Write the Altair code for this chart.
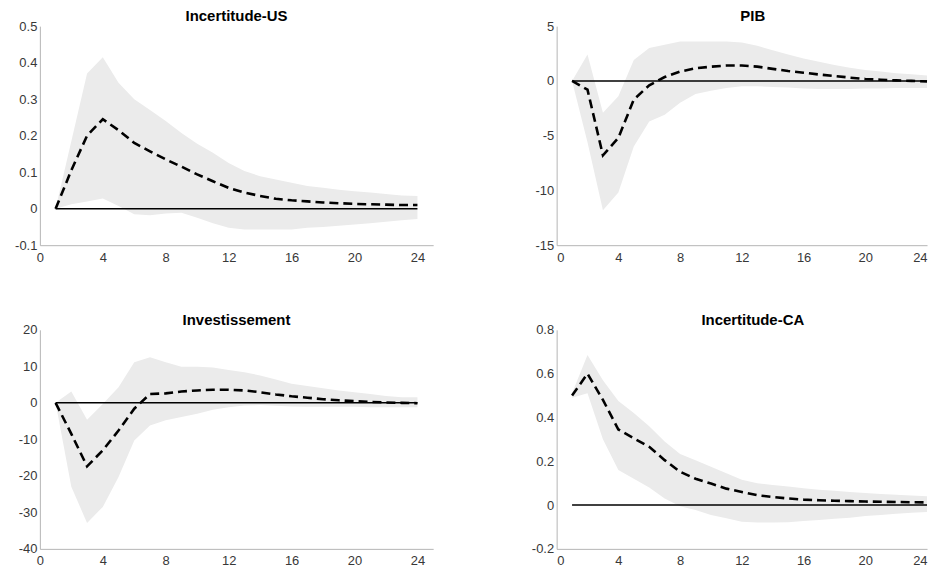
import altair as alt
import pandas as pd

horizons = [1, 2, 3, 4, 5, 6, 7, 8, 9, 10, 11, 12, 13, 14, 15, 16, 17, 18, 19, 20, 21, 22, 23, 24]
x_ticks = [0, 4, 8, 12, 16, 20, 24]

us_med = [0, 0.105, 0.2, 0.245, 0.215, 0.18, 0.157, 0.135, 0.115, 0.094, 0.075, 0.057,
          0.044, 0.035, 0.027, 0.023, 0.02, 0.017, 0.015, 0.013, 0.012, 0.011, 0.01, 0.01]
us_hi = [0, 0.185, 0.37, 0.415, 0.345, 0.30, 0.27, 0.24, 0.207, 0.178, 0.153, 0.125,
         0.103, 0.089, 0.08, 0.071, 0.062, 0.057, 0.052, 0.048, 0.044, 0.04, 0.036, 0.035]
us_lo = [0, 0.012, 0.02, 0.028, 0.007, -0.015, -0.018, -0.013, -0.011, -0.025, -0.04, -0.052,
         -0.057, -0.057, -0.057, -0.057, -0.052, -0.05, -0.047, -0.043, -0.04, -0.036, -0.032, -0.028]
us_yticks = [-0.1, 0, 0.1, 0.2, 0.3, 0.4, 0.5]

pib_med = [0, -0.8, -6.8, -5.2, -1.7, -0.4, 0.35, 0.85, 1.15, 1.3, 1.4, 1.4,
           1.3, 1.1, 0.9, 0.75, 0.58, 0.45, 0.3, 0.18, 0.1, 0.05, 0.0, -0.05]
pib_hi = [0, 2.4, -2.9, -1.4, 1.9, 3.0, 3.3, 3.6, 3.6, 3.6, 3.6, 3.5,
          3.2, 2.8, 2.4, 2.05, 1.75, 1.45, 1.2, 1.0, 0.85, 0.7, 0.6, 0.5]
pib_lo = [0, -5.6, -11.8, -10.2, -6.0, -3.7, -3.1, -2.0, -1.2, -0.9, -0.65, -0.5,
          -0.5, -0.55, -0.6, -0.7, -0.75, -0.75, -0.75, -0.7, -0.7, -0.65, -0.65, -0.65]
pib_yticks = [-15, -10, -5, 0, 5]

inv_med = [0, -8.5, -17.4, -13.0, -7.6, -1.6, 2.4, 2.6, 3.1, 3.4, 3.6, 3.6,
           3.4, 2.9, 2.3, 1.8, 1.4, 1.0, 0.7, 0.45, 0.25, 0.1, 0.0, -0.1]
inv_hi = [0, 3.1, -4.6, -0.3, 4.3, 11.1, 12.5, 11.1, 9.9, 9.9, 9.7, 9.0,
          8.4, 7.5, 6.4, 5.2, 4.6, 4.0, 3.4, 2.9, 2.4, 1.9, 1.5, 1.5]
inv_lo = [0, -23.0, -32.9, -28.5, -20.3, -10.3, -6.2, -4.8, -3.9, -3.0, -1.9, -1.2,
          -0.7, -0.6, -0.8, -1.0, -1.1, -1.1, -1.1, -1.1, -1.2, -1.2, -1.2, -1.2]
inv_yticks = [-40, -30, -20, -10, 0, 10, 20]

ca_med = [0.50, 0.60, 0.48, 0.345, 0.305, 0.266, 0.205, 0.152, 0.12, 0.098, 0.075, 0.06,
          0.045, 0.037, 0.03, 0.025, 0.022, 0.02, 0.018, 0.016, 0.015, 0.014, 0.013, 0.012]
ca_hi = [0.51, 0.685, 0.57, 0.475, 0.42, 0.36, 0.29, 0.233, 0.205, 0.175, 0.145, 0.115,
         0.10, 0.092, 0.085, 0.077, 0.07, 0.065, 0.06, 0.055, 0.05, 0.047, 0.044, 0.04]
ca_lo = [0.49, 0.51, 0.30, 0.16, 0.12, 0.08, 0.03, -0.005, -0.023, -0.045, -0.06, -0.076,
         -0.08, -0.08, -0.078, -0.073, -0.068, -0.063, -0.058, -0.05, -0.045, -0.04, -0.035, -0.032]
ca_yticks = [-0.2, 0, 0.2, 0.4, 0.6, 0.8]

LABEL_EXPR = "(datum.value < 0 ? '-' : '') + format(abs(datum.value), '~g')"


def panel(title, med, lo, hi, yticks, xmax, width, height, right):
    df = pd.DataFrame({"h": horizons, "med": med, "lo": lo, "hi": hi})
    xscale = alt.Scale(domain=[0, xmax], nice=False)
    yscale = alt.Scale(domain=[yticks[0], yticks[-1]], nice=False, zero=False)
    xaxis = alt.Axis(values=x_ticks, tickCount=20, title=None, labelExpr=LABEL_EXPR,
                     labelFlush=right, labelOverlap=False)
    yaxis = alt.Axis(values=yticks, tickCount=20, title=None, labelExpr=LABEL_EXPR,
                     labelOverlap=False)
    base = alt.Chart(df)
    band = base.mark_area(color="#ebebeb", opacity=1).encode(
        x=alt.X("h:Q", scale=xscale, axis=xaxis),
        y=alt.Y("lo:Q", scale=yscale, axis=yaxis),
        y2="hi:Q",
    )
    zero = base.mark_line(color="black", strokeWidth=1.5).encode(
        x="h:Q", y=alt.datum(0)
    )
    line = base.mark_line(color="black", strokeWidth=2.6, strokeDash=[9, 5]).encode(
        x="h:Q", y="med:Q"
    )
    return alt.layer(band, zero, line).properties(
        width=width,
        height=height,
        title=alt.TitleParams(
            title, fontSize=15, fontWeight="bold", font="Liberation Sans",
            color="black", offset=-4, dx=11 if right else 0,
        ),
    )


H = 220
p1 = panel("Incertitude-US", us_med, us_lo, us_hi, us_yticks, 25, 395, H, False)
p2 = panel("PIB", pib_med, pib_lo, pib_hi, pib_yticks, 24, 372, H, True)
p3 = panel("Investissement", inv_med, inv_lo, inv_hi, inv_yticks, 25, 395, H, False)
p4 = panel("Incertitude-CA", ca_med, ca_lo, ca_hi, ca_yticks, 24, 372, H, True)

chart = alt.concat(
    p1, p2, p3, p4, columns=2, spacing={"row": 85, "column": 124}, bounds="flush"
).properties(
    padding={"left": 6, "top": 0, "right": 2, "bottom": 0}
).configure_view(
    stroke=None
).configure_axis(
    grid=False,
    domainColor="#b4b4b4",
    domainWidth=1,
    tickSize=0,
    labelFont="Liberation Sans",
    labelFontSize=13,
    labelColor="#383838",
).configure_axisY(
    labelPadding=3
).configure_axisX(
    labelPadding=6
)

chart.save("out.html", embed_options={"renderer": "svg", "actions": False})
